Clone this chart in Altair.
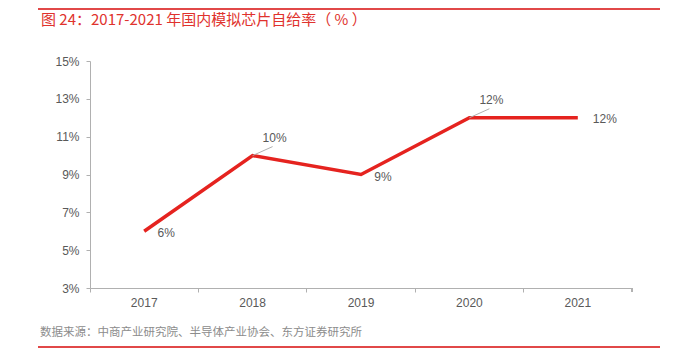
import altair as alt
import pandas as pd

years = ["2017", "2018", "2019", "2020", "2021"]
rates = [6, 10, 9, 12, 12]
labels = ["6%", "10%", "9%", "12%", "12%"]
y_ticks = [3, 5, 7, 9, 11, 13, 15]

title_text = "图 24：2017-2021 年国内模拟芯片自给率（ % ）"
source_text = "数据来源：中商产业研究院、半导体产业协会、东方证券研究所"

df = pd.DataFrame({"year": years, "rate": rates, "label": labels})

RED = "#e5231f"
GRAY = "#595959"
FONT = "Liberation Sans"

x_enc = alt.X("year:O", sort=years, scale=alt.Scale(paddingInner=0, paddingOuter=0),
              axis=alt.Axis(title=None, labelAngle=0, bandPosition=0, tickSize=4,
                            tickColor="#b0b0b0", domainColor="#b0b0b0", labelColor=GRAY,
                            labelFontSize=12, labelFont=FONT, labelPadding=5, grid=False))
y_enc = alt.Y("rate:Q", scale=alt.Scale(domain=[3, 15], nice=False, zero=False),
              axis=alt.Axis(title=None, values=y_ticks, labelExpr="datum.value + '%'",
                            tickSize=4, tickColor="#b0b0b0", domainColor="#b0b0b0",
                            labelColor=GRAY, labelFontSize=12, labelFont=FONT,
                            labelPadding=7, grid=False, labelOverlap=False))

base = alt.Chart(df)

line = base.mark_line(color=RED, strokeWidth=3.5).encode(x=x_enc, y=y_enc)

leader = base.transform_filter(
    alt.FieldOneOfPredicate(field="year", oneOf=["2018", "2020"])
).mark_rule(color="#b0b0b0", strokeWidth=1, x2Offset=20, y2Offset=-9).encode(
    x=x_enc, x2="year:O", y=y_enc, y2="rate:Q")

def lbl(which, dx, dy):
    return base.transform_filter(
        alt.FieldOneOfPredicate(field="year", oneOf=which)
    ).mark_text(dx=dx, dy=dy, fontSize=12, font=FONT, color=GRAY).encode(
        x=x_enc, y=y_enc, text="label:N")

lbl_below = lbl(["2017", "2019"], 22, 2)
lbl_above = lbl(["2018", "2020"], 22, -18)
lbl_right = lbl(["2021"], 27, 1)

end_tick = alt.Chart(df).mark_rule(color="#b0b0b0", strokeWidth=1).encode(
    x=alt.value(542), y=alt.value(227), y2=alt.value(231))

top_line = alt.Chart(df).mark_rule(color="#e04848", strokeWidth=1.5).encode(
    x=alt.value(-52), x2=alt.value(570), y=alt.value(-52))
bottom_line = alt.Chart(df).mark_rule(color="#e04848", strokeWidth=1.5).encode(
    x=alt.value(-52), x2=alt.value(570), y=alt.value(286))

title = alt.Chart(pd.DataFrame({"t": [title_text]})).mark_text(
    align="left", baseline="middle", fontSize=15, font="Noto Sans CJK SC",
    color="#e0322d").encode(x=alt.value(-49), y=alt.value(-41), text="t:N")
source = alt.Chart(pd.DataFrame({"t": [source_text]})).mark_text(
    align="left", baseline="middle", fontSize=11.5, font="Noto Sans CJK SC",
    color="#8c8c8c").encode(x=alt.value(-50), y=alt.value(272), text="t:N")

chart = alt.layer(line, leader, lbl_below, lbl_above, lbl_right, end_tick,
                  top_line, bottom_line, title, source).properties(
    width=542, height=227,
    autosize=alt.AutoSizeParams(type="none"),
    padding={"left": 82, "top": 53, "right": 35, "bottom": 60},
).configure_view(stroke=None).configure_axisY(labelOverlap=False)

chart.save("out.html", embed_options={"renderer": "svg", "actions": False})
